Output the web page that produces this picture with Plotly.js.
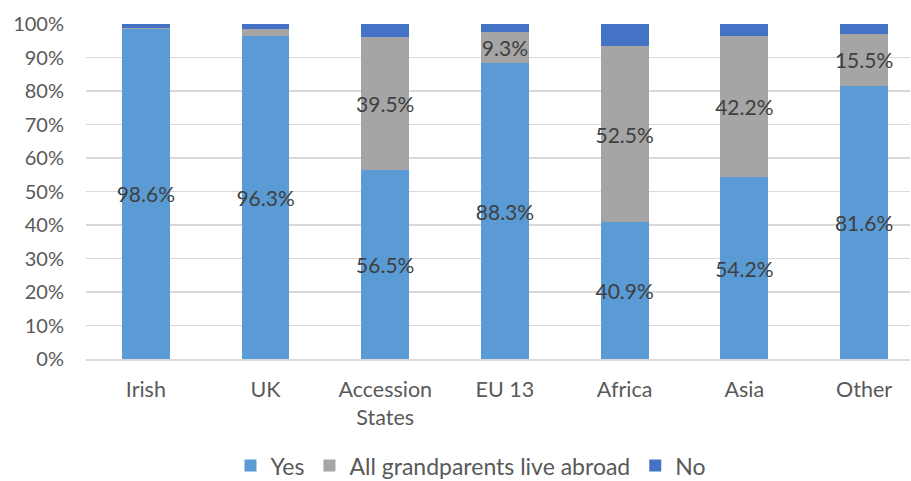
<!DOCTYPE html>
<html>
<head>
<meta charset="utf-8">
<script src="https://cdn.plot.ly/plotly-3.0.1.min.js"></script>
<style>html,body{margin:0;padding:0;background:#fff;}#chart{width:911px;height:481px;}</style>
</head>
<body>
<div id="chart"></div>
<script>
var categories = ["Irish", "UK", "Accession<br>States", "EU 13", "Africa", "Asia", "Other"];
var yesValues = [98.6, 96.3, 56.5, 88.3, 40.9, 54.2, 81.6];
var abroadValues = [0.3, 2.3, 39.5, 9.3, 52.5, 42.2, 15.5];
var noValues = [1.1, 1.4, 4.0, 2.4, 6.6, 3.6, 2.9];
var yesLabels = ["98.6%", "96.3%", "56.5%", "88.3%", "40.9%", "54.2%", "81.6%"];
var abroadLabels = ["", "", "39.5%", "9.3%", "52.5%", "42.2%", "15.5%"];
var seriesNames = ["Yes", "All grandparents live abroad", "No"];
var tickVals = [0, 10, 20, 30, 40, 50, 60, 70, 80, 90, 100];
var tickText = ["0%", "10%", "20%", "30%", "40%", "50%", "60%", "70%", "80%", "90%", "100%"];

var FONT = "Lato, 'Open Sans', sans-serif";
var labelFont = {family: FONT, size: 21, color: "#404040"};

function barTrace(name, vals, labels, color) {
  return {
    type: "bar", name: name, x: categories, y: vals,
    marker: {color: color, line: {width: 0}},
    text: labels, textposition: labels ? "inside" : "none",
    insidetextanchor: "middle", textangle: 0, constraintext: "none",
    textfont: labelFont, hoverinfo: "skip"
  };
}

var data = [
  barTrace(seriesNames[0], yesValues, yesLabels, "#5B9BD5"),
  barTrace(seriesNames[1], abroadValues, abroadLabels, "#A5A5A5"),
  barTrace(seriesNames[2], noValues, null, "#4472C4")
];

var layout = {
  width: 911, height: 481,
  barmode: "stack", bargap: 0.6,
  margin: {l: 86, r: 1, t: 24, b: 122, pad: 0, autoexpand: false},
  paper_bgcolor: "#fff", plot_bgcolor: "#fff",
  font: {family: FONT, color: "#595959", size: 20},
  xaxis: {
    type: "category", range: [-0.5, 6.384], automargin: false,
    showgrid: false, showline: true, linecolor: "#D9D9D9", linewidth: 1.5,
    ticks: "", tickfont: {family: FONT, size: 21.5, color: "#595959"},
    ticklabelstandoff: 11, fixedrange: true
  },
  yaxis: {
    range: [0, 100], tickvals: tickVals, ticktext: tickText, automargin: false,
    showgrid: true, gridcolor: "#D9D9D9", gridwidth: 1.3,
    zeroline: false, showline: false, ticks: "",
    tickfont: {family: FONT, size: 20, color: "#595959"},
    ticklabelstandoff: 21, fixedrange: true
  },
  showlegend: true,
  legend: {
    orientation: "h", x: 0.517, xanchor: "center", xref: "container",
    y: 0.032, yanchor: "middle", yref: "container",
    font: {family: FONT, size: 23, color: "#595959"},
    traceorder: "normal", itemwidth: 30
  }
};

Plotly.newPlot("chart", data, layout, {staticPlot: true, displayModeBar: false});
</script>
</body>
</html>
